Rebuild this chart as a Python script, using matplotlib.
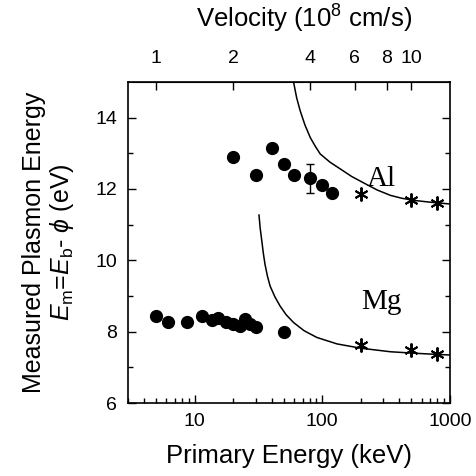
import numpy as np
import matplotlib
matplotlib.use('Agg')
import matplotlib.pyplot as plt
from matplotlib.ticker import FixedLocator, NullFormatter, LogLocator

plt.rcParams['font.family'] = ['Liberation Sans', 'DejaVu Sans']
plt.rcParams['mathtext.fontset'] = 'custom'
plt.rcParams['mathtext.rm'] = 'Liberation Sans'
plt.rcParams['mathtext.it'] = 'Liberation Sans:italic'

# Al data (primary energy in keV, plasmon energy in eV)
al_E = [20, 30, 40, 50, 60, 80, 100, 120]
al_val = [12.9, 12.4, 13.15, 12.7, 12.4, 12.3, 12.1, 11.88]
al_err_E = [80]
al_err_val = [12.3]
al_err = [0.4]
al_star_E = [200, 500, 800]
al_star_val = [11.85, 11.68, 11.6]
al_curve_E = [59.5, 63, 67.1, 73, 80.5, 88, 96.4, 115, 138.6, 170, 211, 270, 343, 420, 524, 700, 1000]
al_curve_val = [15.0, 14.55, 14.19, 13.8, 13.44, 13.2, 12.98, 12.75, 12.56, 12.35, 12.17, 11.97, 11.82, 11.74, 11.68, 11.63, 11.58]

# Mg data
mg_E = [5, 6.2, 8.7, 11.3, 13.6, 15.1, 17.5, 20, 22.6, 24.9, 27.1, 30.2, 50]
mg_val = [8.43, 8.28, 8.28, 8.43, 8.32, 8.38, 8.28, 8.21, 8.17, 8.35, 8.23, 8.12, 8.0]
mg_star_E = [200, 500, 800]
mg_star_val = [7.63, 7.49, 7.39]
mg_curve_E = [31.9, 32.6, 33.5, 34.5, 35.6, 37.2, 39.0, 42.5, 46.7, 52, 59.5, 72, 90.8, 130.5, 200, 343, 524, 750, 1000]
mg_curve_val = [11.27, 10.9, 10.57, 10.2, 9.88, 9.55, 9.28, 8.98, 8.72, 8.48, 8.26, 8.03, 7.84, 7.66, 7.54, 7.44, 7.40, 7.37, 7.35]

vel_ticks = [1, 2, 4, 6, 8, 10]

fig = plt.figure(figsize=(4.76, 4.76), dpi=100)
ax = fig.add_axes([0.269, 0.153, 0.676, 0.675])

ax.plot(al_curve_E, al_curve_val, 'k-', lw=1.1)
ax.plot(mg_curve_E, mg_curve_val, 'k-', lw=1.1)
ax.plot(al_E, al_val, 'ko', ms=8.5, ls='none')
ax.plot(mg_E, mg_val, 'ko', ms=8.5, ls='none')
ax.errorbar(al_err_E, al_err_val, yerr=al_err, fmt='none', ecolor='k', elinewidth=1, capsize=3, capthick=1)
star = (6, 2, 0)
ax.plot(al_star_E, al_star_val, marker=star, color='k', ms=10, mew=1.4, ls='none')
ax.plot(mg_star_E, mg_star_val, marker=star, color='k', ms=10, mew=1.4, ls='none')

ax.text(0.787, 0.697, 'Al', transform=ax.transAxes, ha='center', va='center',
        family='Liberation Serif', fontsize=21)
ax.text(0.787, 0.315, 'Mg', transform=ax.transAxes, ha='center', va='center',
        family='Liberation Serif', fontsize=21)

ax.set_xscale('log')
ax.set_xlim(3, 1000)
ax.set_ylim(6, 15)
ax.set_xticks([10, 100, 1000])
ax.set_xticklabels(['10', '100', '1000'])
ax.xaxis.set_minor_locator(LogLocator(base=10, subs=np.arange(2, 10)))
ax.xaxis.set_minor_formatter(NullFormatter())
ax.set_yticks([6, 8, 10, 12, 14])
ax.yaxis.set_minor_locator(FixedLocator([7, 9, 11, 13]))
ax.tick_params(which='both', direction='in', top=False, right=True, labelsize=14, width=1)
ax.tick_params(which='major', length=6)
ax.tick_params(which='minor', length=3.5)
ax.tick_params(axis='x', which='major', pad=7)
ax.tick_params(axis='y', which='major', pad=8)
for s in ax.spines.values():
    s.set_linewidth(1.2)

ax.set_xlabel('Primary Energy (keV)', fontsize=18.5, labelpad=10)
ax.set_ylabel('Measured Plasmon Energy\n$E_{\\rm m}$=$E_{\\rm b}$- $\\phi$ (eV)', fontsize=18,
              labelpad=14, linespacing=1.1)

sec = ax.secondary_xaxis('top', functions=(lambda e: np.sqrt(np.clip(e, 1e-9, None) / 5.0),
                                           lambda v: 5.0 * np.asarray(v) ** 2))
sec.set_xticks(vel_ticks)
sec.set_xticklabels([str(v) for v in vel_ticks])
sec.xaxis.set_minor_locator(FixedLocator([]))
sec.tick_params(which='both', direction='in', labelsize=14, length=6, width=1, pad=11)
sec.set_xlabel('Velocity (10$^8$ cm/s)', fontsize=18.5, labelpad=16)
sec.xaxis.label.set_x(0.547)

fig.savefig('out.png', dpi=100)
